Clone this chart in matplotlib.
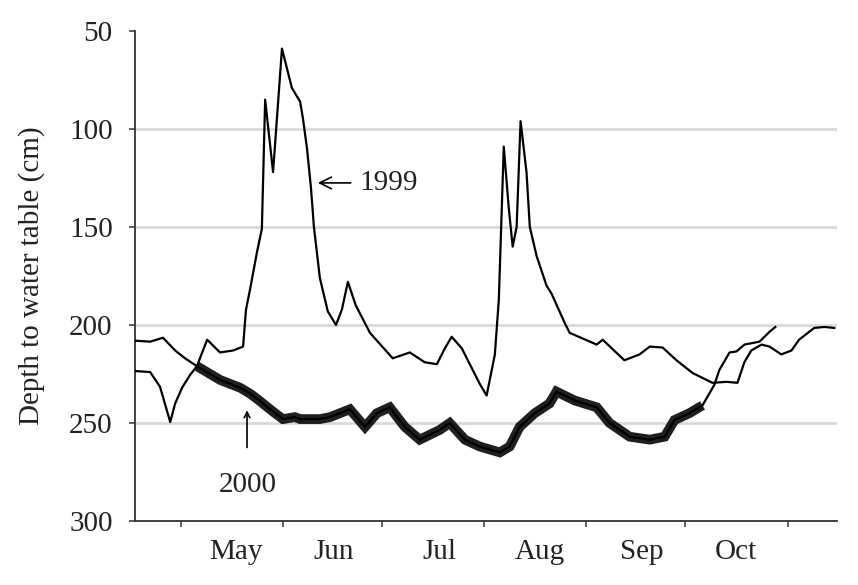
import numpy as np
import matplotlib
matplotlib.use('Agg')
import matplotlib.pyplot as plt

plt.rcParams['font.family'] = ['Liberation Serif', 'DejaVu Serif']

# day of year vs depth to water table (cm)
doy_1999 = [107.1, 111.6, 114.6, 117.7, 119.2, 121.3, 123.7, 125.8, 128.9, 131.3,
            132.8, 136.8, 139.8, 140.7, 141.9, 144.0, 145.5, 146.5, 148.9, 151.6,
            154.6, 157.1, 158.0, 159.2, 160.4, 161.3, 163.1, 165.5, 168.0, 169.8,
            171.6, 174.0, 178.3, 185.2, 190.4, 194.9, 198.6, 201.0, 203.1, 206.2,
            211.6, 213.7, 216.2, 217.4, 218.9, 220.4, 221.6, 222.8, 224.0, 225.8,
            226.8, 228.9, 231.9, 233.4, 237.4, 238.9, 247.1, 248.9, 255.5, 260.1,
            263.2, 267.1, 271.3, 276.2, 282.2, 286.5, 289.8, 291.9, 294.0, 297.1,
            299.5, 303.1, 306.2, 308.5, 313.1, 316.2, 319.2]
depth_1999 = [223.5, 224, 231.5, 249.5, 240, 232, 225.5, 221, 207.5, 211.5,
              214, 213, 211, 192, 182, 163, 151, 85, 122, 59,
              79, 86, 95, 110, 130, 150, 176, 193, 200, 192,
              178, 190, 204, 217, 214, 219, 220, 212, 206, 212,
              230, 236, 215, 187, 109, 140, 160, 150, 96, 122,
              150, 165, 180, 184, 199, 204, 210, 207.5, 218, 215,
              211, 211.5, 218, 224.5, 229.5, 229, 229.5, 219, 213, 210,
              211, 215, 213, 207.5, 201.5, 201, 201.5]

doy_2000 = [107.1, 111.6, 115.5, 119.2, 122.2, 125.8, 129.8, 132.8, 135.8, 138.9,
            141.9, 144.3, 146.5, 149.5, 151.9, 155.5, 157.1, 163.1, 166.2, 172.2,
            176.8, 180.4, 184.3, 188.9, 193.4, 199.5, 202.5, 207.1, 211.6, 217.7,
            220.7, 223.7, 228.3, 232.8, 234.9, 240.4, 247.1, 251.0, 257.1, 263.2,
            267.7, 270.7, 275.2, 279.2, 282.8, 284.3, 287.4, 289.5, 291.9, 296.5,
            299.5, 301.3]
depth_2000 = [208, 208.5, 206.5, 213, 217, 221, 225, 228, 230, 232,
              235, 238, 241, 245, 248, 247, 248, 248, 247, 243,
              252, 245, 242, 252, 258.5, 253.5, 250, 258.5, 262, 265,
              262, 252, 245, 240, 234, 238.5, 242, 250, 257, 258.5,
              257, 248.5, 245, 241, 230.5, 223, 214, 213.5, 210, 208.5,
              203.5, 201]

month_starts = [121, 152, 182, 213, 244, 274, 305]
month_label_pos = [137.7, 167.4, 199.5, 229.8, 260.7, 289.2]
month_labels = ['May', 'Jun', 'Jul', 'Aug', 'Sep', 'Oct']
depth_ticks = [50, 100, 150, 200, 250, 300]

fig = plt.figure(figsize=(8.58, 5.85), dpi=100)
ax = fig.add_axes([0.1573, 0.1094, 0.8182, 0.8376])

fs = 21
ax.plot(doy_1999, depth_1999, color='black', lw=1.6, zorder=3)

d2000 = np.array(doy_2000)
v2000 = np.array(depth_2000)
ax.plot(d2000, v2000, color='black', lw=1.6, zorder=3)
# diurnal fluctuations make the 2000 record look like a thick band
noisy = (d2000 >= 125) & (d2000 <= 280)
ax.plot(d2000[noisy], v2000[noisy], color='black', lw=7, zorder=3,
        solid_capstyle='butt', solid_joinstyle='miter', alpha=0.88)

ax.set_xlim(107, 320)
ax.set_ylim(300, 50)

ax.set_yticks(depth_ticks)
ax.yaxis.grid(True, color='#d9d9d9', lw=2)
ax.get_ygridlines()[0].set_visible(False)
ax.get_ygridlines()[-1].set_visible(False)
ax.set_axisbelow(True)

ax.set_xticks(month_starts)
ax.set_xticklabels([])
ax.set_xticks(month_label_pos, minor=True)
ax.set_xticklabels(month_labels, minor=True)
ax.tick_params(axis='x', which='minor', length=0, pad=13, labelsize=fs, colors='#222222')
ax.tick_params(axis='x', which='major', length=4, width=1.2, color='#444444')
ax.tick_params(axis='y', length=4, width=1.2, color='#444444', pad=12,
               labelsize=fs, labelcolor='#222222')

for s in ['top', 'right']:
    ax.spines[s].set_visible(False)
for s in ['left', 'bottom']:
    ax.spines[s].set_color('#333333')
    ax.spines[s].set_linewidth(1.3)

ax.set_ylabel('Depth to water table (cm)', fontsize=fs, color='#222222')
ax.yaxis.set_label_coords(-0.128, 0.5)

ax.annotate('1999', xy=(162.5, 127.5), xytext=(175.0, 127.5), fontsize=fs,
            color='#222222', va='center', ha='left',
            arrowprops=dict(arrowstyle='->', color='black', lw=1.2,
                            shrinkA=4, shrinkB=0))
ax.annotate('', xy=(141.0, 243.5), xytext=(141.0, 262.5),
            arrowprops=dict(arrowstyle='->', color='black', lw=1.2,
                            shrinkA=0, shrinkB=0))
ax.text(141.3, 281.5, '2000', fontsize=fs, color='#222222', ha='center', va='center')

fig.savefig('out.png', dpi=100, facecolor='white')
